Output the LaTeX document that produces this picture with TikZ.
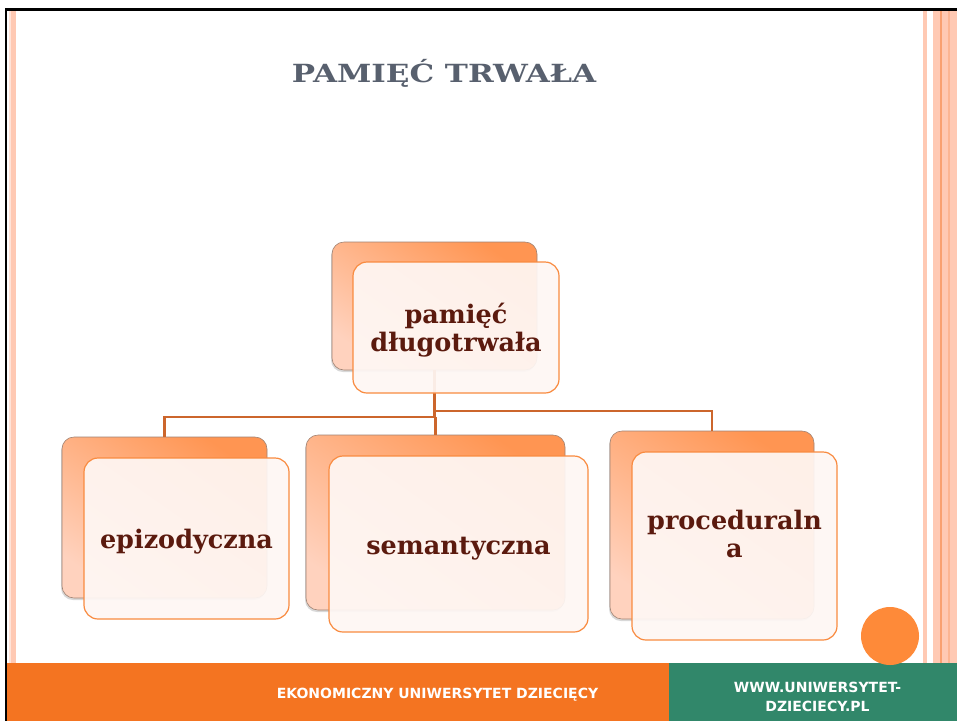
\documentclass[tikz,border=0pt]{standalone}
\usepackage{fontspec}
\setmainfont{DejaVu Serif}
\newfontfamily\footfont{DejaVu Sans}
\usetikzlibrary{shadows,calc}
\definecolor{stripeA}{HTML}{FFE3D8}
\definecolor{stripeB}{HTML}{FFC9B3}
\definecolor{stripeC}{HTML}{F9A070}
\definecolor{barorange}{HTML}{F47421}
\definecolor{bargreen}{HTML}{31876A}
\definecolor{dotorange}{HTML}{FE8A39}
\definecolor{titlegray}{HTML}{58606E}
\definecolor{txtbrown}{HTML}{5B1A0E}
\definecolor{backdark}{HTML}{FF9552}
\definecolor{backlight}{HTML}{FFD2BE}
\definecolor{backedge}{HTML}{A08272}
\definecolor{frontfill}{HTML}{FEF7F4}
\definecolor{frontedge}{HTML}{F98B40}
\definecolor{connc}{HTML}{CC662C}
\tikzset{
  backbox/.style={rectangle, rounded corners=12pt, draw=backedge, line width=0.6pt,
    top color=backdark, bottom color=backlight, shading angle=-35,
    drop shadow={shadow xshift=-1pt, shadow yshift=-2pt, opacity=0.25, fill=black!60},
    inner sep=0pt},
  frontbox/.style={rectangle, rounded corners=14pt, draw=frontedge, line width=1.2pt,
    fill=frontfill, fill opacity=0.93, inner sep=0pt},
  boxtext/.style={text=txtbrown, align=center,
    font=\fontsize{25.5}{28}\selectfont\bfseries, inner sep=0pt},
  conn/.style={draw=connc, line width=2.2pt},
  foot/.style={text=white, font=\footfont\bfseries\fontsize{14}{19}\selectfont, align=center}
}
\begin{document}
\begin{tikzpicture}[x=1pt,y=-1pt]
\useasboundingbox (0,0) rectangle (957,721);
\fill[white] (0,0) rectangle (957,721);
% side stripes
\fill[stripeA] (9,11) rectangle (11,721);
\fill[stripeB] (11,11) rectangle (16,721);
\fill[stripeB] (922.7,11) rectangle (927,721);
\fill[stripeB] (933,11) rectangle (957,721);
\fill[stripeC] (940,11) rectangle (941.7,721);
\fill[stripeC!50!stripeB] (948,11) rectangle (950,721);
% black frame
\fill[black] (5,8) rectangle (957,11);
\fill[black] (5,8) rectangle (7.4,721);
% title
\node[anchor=base, text=titlegray, font=\fontsize{25}{28}\selectfont\bfseries] (title) at (444,82) {\scalebox{1.24}[1]{PAMIĘĆ TRWAŁA}};
% back boxes
\node[backbox, minimum width=205pt, minimum height=128pt] (tb) at (434.5,306) {};
\node[backbox, minimum width=205pt, minimum height=161pt] (eb) at (164.5,517.5) {};
\node[backbox, minimum width=259pt, minimum height=175pt] (sb) at (435.5,522.5) {};
\node[backbox, minimum width=204pt, minimum height=188pt] (pb) at (712,525) {};
% connectors
\coordinate (lvl) at (0,417);
\coordinate (lvr) at (0,411);
\draw[conn] (tb.south) -- (tb.south |- lvl);
\draw[conn] (tb.south |- lvr) -| (pb.north);
\draw[conn] (sb.north |- lvl) -| (eb.north);
\draw[conn] (sb.north |- lvl) -- (sb.north);
% front boxes
\node[frontbox, minimum width=206pt, minimum height=131pt] (tf) at (456,327.5) {};
\node[frontbox, minimum width=205pt, minimum height=161pt] (ef) at (186.5,538.5) {};
\node[frontbox, minimum width=259pt, minimum height=176pt] (sf) at (458.5,544) {};
\node[frontbox, minimum width=205pt, minimum height=188pt] (pf) at (734.5,546) {};
\node[boxtext] (tt) at ($(tf.center)+(0,3)$) {pamięć\\długotrwała};
\node[boxtext] (et) at ($(ef.center)+(0,3)$) {epizodyczna};
\node[boxtext] (st) at ($(sf.center)+(0,5)$) {semantyczna};
\node[boxtext] (pt) at ($(pf.center)+(0,-12)$) {proceduraln\\a};
% bottom bars
\fill[barorange] (7.4,663) rectangle (669,721);
\fill[bargreen] (669,663) rectangle (957,721);
\fill[dotorange] (890,636) circle (29);
\node[foot] (f1) at (437.5,695) {EKONOMICZNY UNIWERSYTET DZIECIĘCY};
\node[foot] (f2) at (817.5,696.5) {WWW.UNIWERSYTET-\\DZIECIECY.PL};
\end{tikzpicture}
\end{document}
